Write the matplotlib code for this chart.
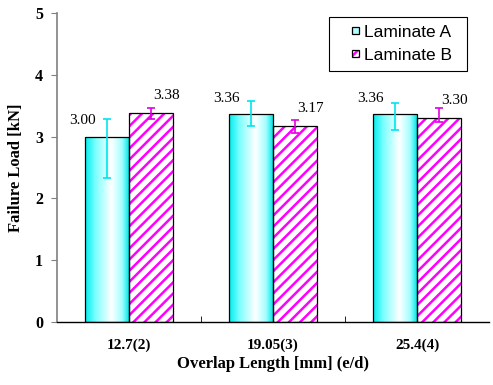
import matplotlib
matplotlib.use("Agg")
import matplotlib.pyplot as plt
import numpy as np
from matplotlib.colors import LinearSegmentedColormap
from matplotlib.patches import Patch, Rectangle
from matplotlib.legend_handler import HandlerBase

categories = ["12.7(2)", "19.05(3)", "25.4(4)"]
laminate_a = [3.00, 3.36, 3.36]
laminate_b = [3.38, 3.17, 3.30]
a_err_low = [0.67, 0.19, 0.25]
a_err_high = [0.29, 0.21, 0.19]
b_err_low = [0.09, 0.11, 0.06]
b_err_high = [0.09, 0.10, 0.16]
series_names = ["Laminate A", "Laminate B"]

plt.rcParams['hatch.linewidth'] = 1.8

fig = plt.figure(figsize=(4.93, 3.85), dpi=100)
ax = fig.add_axes([57/493, 1-322/385, 432/493, (322-13)/385])

x = np.arange(len(categories))
w = 0.305

bars_a = ax.bar(x - w/2, laminate_a, w, facecolor='none', edgecolor='black', linewidth=0.9, zorder=3)
# hatch layer (magenta) then black outline
ax.bar(x + w/2, laminate_b, w, facecolor='white', edgecolor='#FF00FF', linewidth=0,
       hatch='///', zorder=2)
ax.bar(x + w/2, laminate_b, w, facecolor='none', edgecolor='black', linewidth=0.9, zorder=3)

cmap = LinearSegmentedColormap.from_list(
    'cy', [(0.0, '#00EEEE'), (0.25, '#80FFFF'), (0.6, '#FFFFFF'), (0.85, '#A0FFFF'), (1.0, '#00E8E8')])
grad = np.linspace(0, 1, 256).reshape(1, -1)
for b in bars_a:
    x0, y0 = b.get_x(), b.get_y()
    im = ax.imshow(grad, cmap=cmap, aspect='auto', extent=[x0, x0 + b.get_width(), y0, y0 + b.get_height()],
                   zorder=2, interpolation='bicubic')
    im.set_clip_path(b)

ax.errorbar(x - w/2, laminate_a, yerr=[a_err_low, a_err_high], fmt='none', ecolor='#00E5EE',
            elinewidth=1.2, capsize=2.7, capthick=1.2, zorder=4)
ax.errorbar(x + w/2, laminate_b, yerr=[b_err_low, b_err_high], fmt='none', ecolor='#E000E0',
            elinewidth=1.2, capsize=2.7, capthick=1.2, zorder=4)

for i in range(len(categories)):
    ax.text(x[i] - w/2 - 0.17, laminate_a[i] + 0.26, f"{laminate_a[i]:.2f}", ha='center', va='center',
            fontsize=11, family='Liberation Serif')
    ax.text(x[i] + w/2 + 0.11, laminate_b[i] + 0.28, f"{laminate_b[i]:.2f}", ha='center', va='center',
            fontsize=11, family='Liberation Serif')

ax.set_xlim(-0.5, 2.5)
ax.set_ylim(0, 5)
ax.set_yticks([0, 1, 2, 3, 4, 5])
ax.set_xticks(x)
ax.set_xticklabels(categories, fontsize=11, fontweight='bold', family='Liberation Serif')
ax.set_xticks([0.5, 1.5], minor=True)
ax.tick_params(axis='x', which='major', length=0, pad=12)
ax.tick_params(axis='x', which='minor', length=4, direction='in', color='black')
ax.tick_params(axis='y', length=4, color='#808080', pad=6)
for lbl in ax.get_yticklabels():
    lbl.set_fontsize(11.5)
    lbl.set_fontweight('bold')
    lbl.set_family('Liberation Serif')

ax.spines['top'].set_visible(False)
ax.spines['right'].set_visible(False)
ax.spines['left'].set_color('#808080')
ax.spines['left'].set_linewidth(1.2)
ax.spines['bottom'].set_color('black')
ax.spines['bottom'].set_linewidth(1.0)

ax.set_xlabel("Overlap Length [mm] (e/d)", fontsize=12, fontweight='bold', family='Liberation Serif',
              labelpad=3)
ax.set_ylabel("Failure Load [kN]", fontsize=12, fontweight='bold', family='Liberation Serif')
ax.yaxis.set_label_coords(-0.077, 0.5)


class SquareHandler(HandlerBase):
    def __init__(self, face, hatch=None, hatch_color=None):
        super().__init__()
        self.face = face
        self.hatch = hatch
        self.hatch_color = hatch_color

    def create_artists(self, legend, orig_handle, xdescent, ydescent, width, height, fontsize, trans):
        s = 5.2
        x0 = -xdescent + width - s
        y0 = -ydescent + (height - s) / 2
        arts = []
        if self.hatch:
            bg = Rectangle((x0, y0), s, s, facecolor=self.face, edgecolor=self.hatch_color,
                           hatch=self.hatch, linewidth=0, transform=trans)
            arts.append(bg)
            fg = Rectangle((x0, y0), s, s, facecolor='none', edgecolor='black', linewidth=0.9,
                           transform=trans)
            arts.append(fg)
        else:
            arts.append(Rectangle((x0, y0), s, s, facecolor=self.face, edgecolor='black',
                                  linewidth=0.9, transform=trans))
        return arts


h_a = Patch(label=series_names[0])
h_b = Patch(label=series_names[1])
leg = ax.legend([h_a, h_b], series_names, loc='upper left',
                bbox_to_anchor=(329/493, 1-69/385, 138/493, 52/385), mode='expand',
                bbox_transform=fig.transFigure, fancybox=False, shadow=False, framealpha=1,
                edgecolor='black', prop={'family': 'Liberation Sans', 'size': 12.5},
                handlelength=1.27, handleheight=0.7, handletextpad=0.3, borderpad=0.45,
                labelspacing=0.45, borderaxespad=0,
                handler_map={h_a: SquareHandler('#B0FFFF'),
                             h_b: SquareHandler('white', '////', '#FF00FF')})
leg.get_frame().set_linewidth(0.8)

fig.savefig("out.png", dpi=100)
